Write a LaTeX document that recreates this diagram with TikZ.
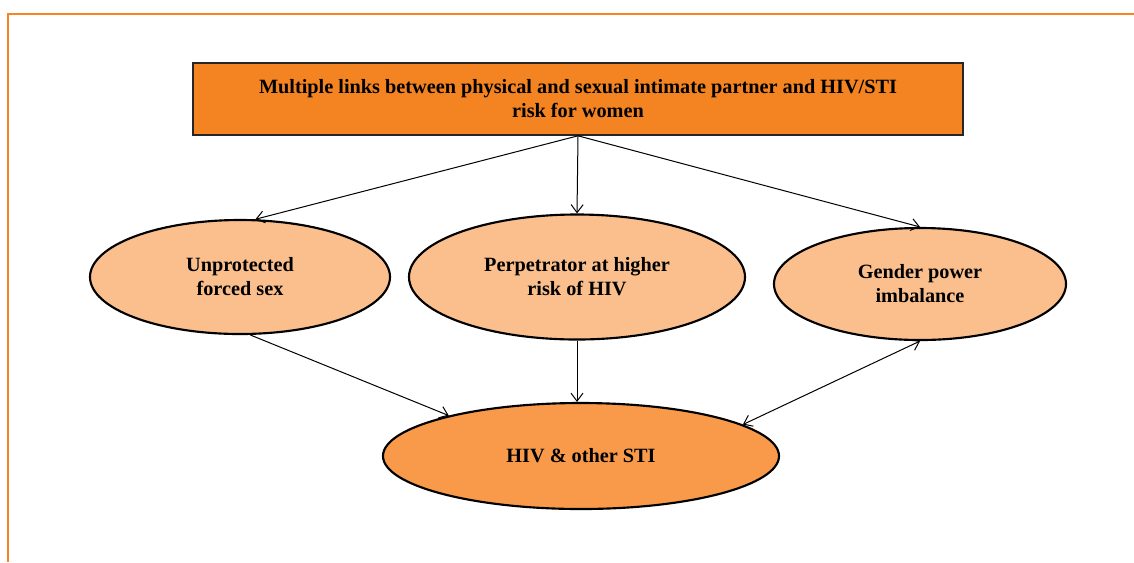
\documentclass[tikz,border=0pt]{standalone}
\usepackage{fontspec}
\setmainfont{Liberation Serif}
\usetikzlibrary{shapes.geometric,arrows.meta}
\definecolor{frameorange}{HTML}{F58426}
\definecolor{boxorange}{HTML}{F48322}
\definecolor{lightorange}{HTML}{FABF8C}
\definecolor{midorange}{HTML}{F89A4A}

\begin{document}
\begin{tikzpicture}[x=0.75pt,y=-0.75pt]
		\tikzstyle{every node}+=[inner sep=0pt,align=center,font=\fontsize{15.2}{18}\selectfont\bfseries]
		\tikzstyle{cause}=[ellipse,draw=black,line width=1.6pt,fill=lightorange]
		\tikzstyle{link}=[black,line width=0.75pt,-{Straight Barb[length=6pt,width=9pt]}]
		\useasboundingbox (0,0) rectangle (1134,562);
		\draw [frameorange,line width=1.7pt] (8,562) -- (8,14) -- (1134,14);
		\node [rectangle,draw=black!85,line width=1.2pt,fill=boxorange,minimum width=577.5pt,minimum height=54pt] (links) at (578,99) {Multiple links between physical and sexual intimate partner and HIV/STI\\risk for women};
		\node [cause,minimum width=225pt,minimum height=85.5pt] (forced) at (240,277) {Unprotected\\forced sex};
		\node [cause,minimum width=252pt,minimum height=93.75pt] (perp) at (577,277) {Perpetrator at higher\\risk of HIV};
		\node [cause,minimum width=219pt,minimum height=84pt] (gender) at (920,284) {Gender power\\imbalance};
		\node [cause,fill=midorange,minimum width=297pt,minimum height=79.5pt] (hiv) at (581,456) {HIV \& other STI};
		\draw [link] (links.south) -- (forced.75);
		\draw [link] (links.south) -- (perp.north);
		\draw [link] (links.south) -- (gender.north);
		\draw [link] (forced.-80) -- (hiv.163);
		\draw [link] (perp.south) -- (perp.south |- hiv.north);
		\draw [link,{Straight Barb[length=6pt,width=9pt]}-{Straight Barb[length=6pt,width=9pt]}] (hiv.11) -- (gender.south);
	\end{tikzpicture}
\end{document}
